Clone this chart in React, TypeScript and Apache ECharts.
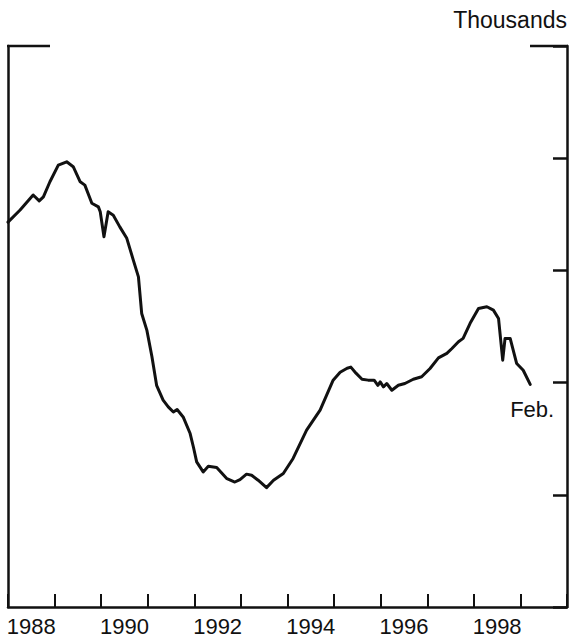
import React, { useEffect, useRef } from "react";
import * as echarts from "echarts";

// Decimal years of the points
const dates: number[] = [
  1988.0, 1988.26, 1988.54, 1988.67, 1988.76, 1988.9, 1989.08, 1989.26, 1989.4, 1989.55,
  1989.65, 1989.8, 1989.94, 1989.98, 1990.06, 1990.15, 1990.26, 1990.4, 1990.55, 1990.69,
  1990.8, 1990.87, 1990.98, 1991.09, 1991.19, 1991.33, 1991.44, 1991.55, 1991.63, 1991.76,
  1991.91, 1991.98, 1992.05, 1992.19, 1992.3, 1992.48, 1992.7, 1992.87, 1992.98, 1993.12,
  1993.23, 1993.37, 1993.55, 1993.7, 1993.91, 1994.12, 1994.41, 1994.7, 1994.98, 1995.13,
  1995.28, 1995.36, 1995.47, 1995.6, 1995.73, 1995.86, 1995.94, 1995.99, 1996.06, 1996.13,
  1996.24, 1996.38, 1996.52, 1996.7, 1996.88, 1997.06, 1997.24, 1997.42, 1997.53, 1997.67,
  1997.77, 1997.92, 1998.1, 1998.28, 1998.42, 1998.53, 1998.62, 1998.67, 1998.78, 1998.92,
  1999.06, 1999.21,
];

// Values (thousands, arbitrary scale 0-250)
const values: number[] = [
  171.5, 176.9, 183.6, 181.0, 182.8, 189.5, 196.9, 198.4, 196.2, 189.5,
  188.0, 179.9, 178.3, 176.1, 165.0, 176.1, 174.6, 169.4, 164.3, 154.6,
  147.1, 130.8, 123.4, 111.5, 98.8, 92.2, 89.2, 86.9, 88.0, 84.7,
  77.3, 71.3, 64.7, 60.2, 62.7, 62.2, 57.2, 55.7, 56.8, 59.2,
  58.7, 56.5, 53.2, 56.5, 59.5, 66.2, 78.8, 87.7, 101.1, 104.6,
  106.4, 106.9, 104.2, 101.5, 101.1, 101.1, 98.8, 100.3, 98.1, 99.6,
  96.6, 98.8, 99.6, 101.5, 102.6, 106.3, 111.0, 113.0, 115.2, 118.2,
  119.7, 126.4, 133.0, 133.8, 132.3, 128.6, 110.0, 119.7, 119.7, 108.5,
  105.5, 99.2,
];

const years: string[] = [
  "1988", "1989", "1990", "1991", "1992", "1993",
  "1994", "1995", "1996", "1997", "1998", "1999",
];

const unitLabel = "Thousands";
const endLabel = "Feb.";

const FONT = '"Liberation Sans", Arial, Helvetica, sans-serif';
const INK = "#111111";

export default function App() {
  const ref = useRef<HTMLDivElement | null>(null);

  useEffect(() => {
    document.body.style.margin = "0";
    if (!ref.current) return;
    const chart = echarts.init(ref.current, null, { renderer: "svg" });

    const grid = { left: 8, right: 4, top: 46, bottom: 37 };
    const W = 571;
    const gridRight = W - grid.right;
    const last = dates.length - 1;

    chart.setOption({
      animation: false,
      backgroundColor: "#ffffff",
      grid: { ...grid, containLabel: false },
      xAxis: [
        {
          type: "category",
          data: years,
          boundaryGap: true,
          position: "bottom",
          axisLine: { show: true, lineStyle: { color: INK, width: 2.5 } },
          axisTick: {
            show: true,
            inside: true,
            length: 13,
            interval: 0,
            lineStyle: { color: INK, width: 2 },
          },
          axisLabel: {
            show: true,
            interval: 1,
            margin: 8,
            color: INK,
            fontFamily: FONT,
            fontSize: 22,
          },
          splitLine: { show: false },
        },
        {
          type: "value",
          min: 1988,
          max: 2000,
          show: false,
        },
      ],
      yAxis: [
        {
          type: "value",
          min: 0,
          max: 250,
          interval: 50,
          position: "left",
          axisLine: { show: true, lineStyle: { color: INK, width: 2.5 } },
          axisTick: { show: false },
          axisLabel: { show: false },
          splitLine: { show: false },
        },
        {
          type: "value",
          min: 0,
          max: 250,
          interval: 50,
          position: "right",
          axisLine: { show: true, lineStyle: { color: INK, width: 2.5 } },
          axisTick: {
            show: true,
            inside: true,
            length: 14,
            lineStyle: { color: INK, width: 2.5 },
          },
          axisLabel: { show: false },
          splitLine: { show: false },
        },
      ],
      graphic: [
        {
          type: "line",
          shape: { x1: grid.left - 1, y1: grid.top, x2: 50, y2: grid.top },
          style: { stroke: INK, lineWidth: 2.5 },
        },
        {
          type: "line",
          shape: { x1: 530, y1: grid.top, x2: gridRight + 1, y2: grid.top },
          style: { stroke: INK, lineWidth: 2.5 },
        },
        {
          type: "text",
          x: gridRight,
          y: 20,
          style: {
            text: unitLabel,
            textAlign: "right",
            textVerticalAlign: "middle",
            fill: INK,
            font: `23px ${FONT}`,
          },
        },
      ],
      series: [
        {
          type: "line",
          xAxisIndex: 1,
          yAxisIndex: 0,
          data: dates.map((d, i) => [d, values[i]]),
          showSymbol: false,
          symbol: "none",
          smooth: false,
          lineStyle: { color: INK, width: 3, join: "round", cap: "round" },
          markPoint: {
            symbol: "circle",
            symbolSize: 1,
            itemStyle: { color: "rgba(0,0,0,0)" },
            label: {
              show: true,
              position: "bottom",
              distance: 0,
              offset: [2, 14],
              formatter: endLabel,
              color: INK,
              fontFamily: FONT,
              fontSize: 22,
            },
            data: [{ coord: [dates[last], values[last]] }],
          },
        },
      ],
    });

    return () => chart.dispose();
  }, []);

  return <div ref={ref} style={{ width: 571, height: 644 }} />;
}
